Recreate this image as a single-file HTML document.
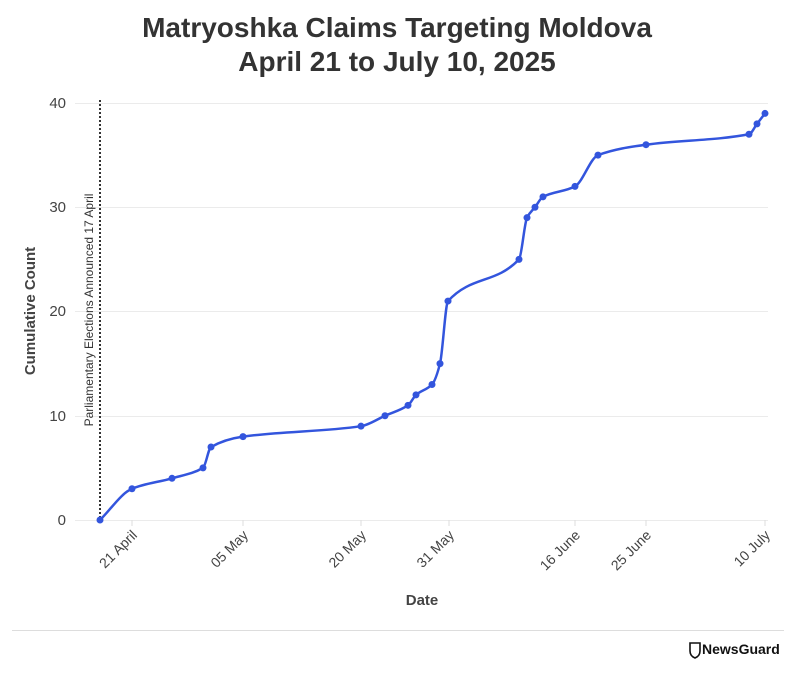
<!DOCTYPE html>
<html><head><meta charset="utf-8"><style>
body{margin:0;background:#fff;width:795px;height:673px;overflow:hidden;font-family:"Liberation Sans",sans-serif}
</style></head><body>
<svg width="795" height="673" xmlns="http://www.w3.org/2000/svg" font-family="Liberation Sans, sans-serif">
<text x="397" y="37" text-anchor="middle" font-size="28" font-weight="bold" fill="#333">Matryoshka Claims Targeting Moldova</text>
<text x="397" y="71" text-anchor="middle" font-size="28" font-weight="bold" fill="#333">April 21 to July 10, 2025</text>
<g stroke="#ebebeb" stroke-width="1">
<line x1="75" x2="768" y1="103.5" y2="103.5"/><line x1="75" x2="768" y1="207.5" y2="207.5"/>
<line x1="75" x2="768" y1="311.5" y2="311.5"/><line x1="75" x2="768" y1="416.5" y2="416.5"/>
<line x1="75" x2="768" y1="520.5" y2="520.5"/>
</g>
<g stroke="#ddd"><line x1="132" x2="132" y1="520" y2="526"/><line x1="243" x2="243" y1="520" y2="526"/><line x1="361" x2="361" y1="520" y2="526"/><line x1="449" x2="449" y1="520" y2="526"/><line x1="575" x2="575" y1="520" y2="526"/><line x1="646" x2="646" y1="520" y2="526"/><line x1="765" x2="765" y1="520" y2="526"/></g>
<g font-size="15" fill="#444" text-anchor="end">
<text x="66" y="108">40</text><text x="66" y="212">30</text><text x="66" y="316">20</text><text x="66" y="421">10</text><text x="66" y="525">0</text>
</g>
<g font-size="14" fill="#444" text-anchor="end">
<text transform="translate(138,536) rotate(-45)">21 April</text>
<text transform="translate(249,536) rotate(-45)">05 May</text>
<text transform="translate(367,536) rotate(-45)">20 May</text>
<text transform="translate(455,536) rotate(-45)">31 May</text>
<text transform="translate(581,536) rotate(-45)">16 June</text>
<text transform="translate(652,536) rotate(-45)">25 June</text>
<text transform="translate(771,536) rotate(-45)">10 July</text>
</g>
<text x="422" y="605" text-anchor="middle" font-size="15" font-weight="bold" fill="#444">Date</text>
<text transform="translate(35,311) rotate(-90)" text-anchor="middle" font-size="15" font-weight="bold" fill="#444">Cumulative Count</text>
<line x1="100" x2="100" y1="100" y2="520" stroke="#333" stroke-width="2" stroke-dasharray="2,2"/>
<text transform="translate(93,310) rotate(-90)" text-anchor="middle" font-size="12" fill="#333">Parliamentary Elections Announced 17 April</text>
<path id="ln" fill="none" stroke="#3355dd" stroke-width="2.5"/>
<g id="pts" fill="#3355dd"></g>
<line x1="12" x2="784" y1="630.5" y2="630.5" stroke="#ddd"/>
<path d="M690 643 h10 v8 q0 5 -5 7 q-5 -2 -5 -7z" fill="none" stroke="#111" stroke-width="1.6"/>
<text x="702" y="654" font-size="14" font-weight="bold" fill="#111">NewsGuard</text>
</svg>
<script>
var P=[[100,0],[132,3],[172,4],[203,5],[211,7],[243,8],[361,9],[385,10],[408,11],[416,12],[432,13],[440,15],[448,21],[519,25],[527,29],[535,30],[543,31],[575,32],[598,35],[646,36],[749,37],[757,38],[765,39]];
P=P.map(function(p){return [p[0],520-p[1]*10.425]});
var n=P.length,d=[],m=[];
for(var i=0;i<n-1;i++)d.push((P[i+1][1]-P[i][1])/(P[i+1][0]-P[i][0]));
m[0]=d[0];m[n-1]=d[n-2];
for(i=1;i<n-1;i++){m[i]=(d[i-1]*d[i]<=0)?0:(2/(1/d[i-1]+1/d[i]));}
var s="M"+P[0][0]+","+P[0][1];
for(i=0;i<n-1;i++){var h=(P[i+1][0]-P[i][0])/3;
s+=" C"+(P[i][0]+h)+","+(P[i][1]+m[i]*h)+" "+(P[i+1][0]-h)+","+(P[i+1][1]-m[i+1]*h)+" "+P[i+1][0]+","+P[i+1][1];}
document.getElementById("ln").setAttribute("d",s);
var g=document.getElementById("pts"),h2="";
P.forEach(function(p){h2+='<circle cx="'+p[0]+'" cy="'+p[1]+'" r="3.5"/>'});
g.innerHTML=h2;
</script>
</body></html>
